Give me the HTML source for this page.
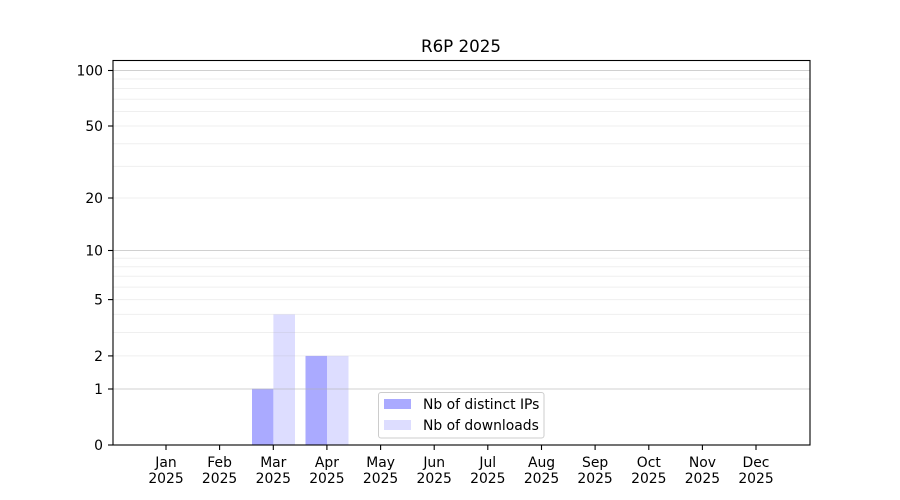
<!DOCTYPE html>
<html>
<head>
<meta charset="utf-8">
<style>
html,body{margin:0;padding:0;background:#fff;}
svg{display:block;}
text{font-family:"DejaVu Sans","Liberation Sans",sans-serif;fill:#000;}
</style>
</head>
<body>
<svg width="900" height="500" viewBox="0 0 900 500" xmlns="http://www.w3.org/2000/svg">
<rect x="0" y="0" width="900" height="500" fill="#fff"/>
<!-- bars -->
<rect x="252" y="388.8" width="21.4" height="56.2" fill="#aaaaff"/>
<rect x="273.4" y="314.4" width="21.6" height="130.6" fill="#ddddff"/>
<rect x="305.5" y="355.9" width="21.5" height="89.1" fill="#aaaaff"/>
<rect x="327" y="355.9" width="21.5" height="89.1" fill="#ddddff"/>
<!-- minor/light gridlines -->
<g stroke="#b0b0b0" stroke-opacity="0.2" stroke-width="1">
<line x1="113" x2="810" y1="355.9" y2="355.9"/>
<line x1="113" x2="810" y1="332.5" y2="332.5"/>
<line x1="113" x2="810" y1="314.4" y2="314.4"/>
<line x1="113" x2="810" y1="299.6" y2="299.6"/>
<line x1="113" x2="810" y1="287.1" y2="287.1"/>
<line x1="113" x2="810" y1="276.3" y2="276.3"/>
<line x1="113" x2="810" y1="266.7" y2="266.7"/>
<line x1="113" x2="810" y1="258.2" y2="258.2"/>
<line x1="113" x2="810" y1="198.0" y2="198.0"/>
<line x1="113" x2="810" y1="166.4" y2="166.4"/>
<line x1="113" x2="810" y1="143.7" y2="143.7"/>
<line x1="113" x2="810" y1="126.0" y2="126.0"/>
<line x1="113" x2="810" y1="111.5" y2="111.5"/>
<line x1="113" x2="810" y1="99.2" y2="99.2"/>
<line x1="113" x2="810" y1="88.5" y2="88.5"/>
<line x1="113" x2="810" y1="79.0" y2="79.0"/>
</g>
<!-- major gridlines -->
<g stroke="#b0b0b0" stroke-opacity="0.6" stroke-width="1">
<line x1="113" x2="810" y1="389.0" y2="389.0"/>
<line x1="113" x2="810" y1="250.5" y2="250.5"/>
<line x1="113" x2="810" y1="70.5" y2="70.5"/>
</g>
<!-- spines -->
<rect x="113" y="60.5" width="697" height="384.5" fill="none" stroke="#000" stroke-width="1.1"/>
<!-- y ticks -->
<g stroke="#000" stroke-width="1.1">
<line x1="108" x2="113" y1="445" y2="445"/>
<line x1="108" x2="113" y1="389" y2="389"/>
<line x1="108" x2="113" y1="355.9" y2="355.9"/>
<line x1="108" x2="113" y1="299.6" y2="299.6"/>
<line x1="108" x2="113" y1="250.5" y2="250.5"/>
<line x1="108" x2="113" y1="198" y2="198"/>
<line x1="108" x2="113" y1="126" y2="126"/>
<line x1="108" x2="113" y1="70.5" y2="70.5"/>
</g>
<g font-size="13.9" text-anchor="end">
<text x="103" y="450">0</text>
<text x="103" y="394">1</text>
<text x="103" y="361">2</text>
<text x="103" y="304.6">5</text>
<text x="103" y="255.5">10</text>
<text x="103" y="203">20</text>
<text x="103" y="131">50</text>
<text x="103" y="75.5">100</text>
</g>
<!-- x ticks -->
<g stroke="#000" stroke-width="1.1">
<line x1="166" x2="166" y1="445" y2="450"/>
<line x1="219.6" x2="219.6" y1="445" y2="450"/>
<line x1="273.3" x2="273.3" y1="445" y2="450"/>
<line x1="326.9" x2="326.9" y1="445" y2="450"/>
<line x1="380.6" x2="380.6" y1="445" y2="450"/>
<line x1="434.2" x2="434.2" y1="445" y2="450"/>
<line x1="487.8" x2="487.8" y1="445" y2="450"/>
<line x1="541.5" x2="541.5" y1="445" y2="450"/>
<line x1="595.1" x2="595.1" y1="445" y2="450"/>
<line x1="648.8" x2="648.8" y1="445" y2="450"/>
<line x1="702.4" x2="702.4" y1="445" y2="450"/>
<line x1="756" x2="756" y1="445" y2="450"/>
</g>
<g font-size="13.9" text-anchor="middle">
<text x="166" y="467">Jan</text><text x="166" y="483">2025</text>
<text x="219.6" y="467">Feb</text><text x="219.6" y="483">2025</text>
<text x="273.3" y="467">Mar</text><text x="273.3" y="483">2025</text>
<text x="326.9" y="467">Apr</text><text x="326.9" y="483">2025</text>
<text x="380.6" y="467">May</text><text x="380.6" y="483">2025</text>
<text x="434.2" y="467">Jun</text><text x="434.2" y="483">2025</text>
<text x="487.8" y="467">Jul</text><text x="487.8" y="483">2025</text>
<text x="541.5" y="467">Aug</text><text x="541.5" y="483">2025</text>
<text x="595.1" y="467">Sep</text><text x="595.1" y="483">2025</text>
<text x="648.8" y="467">Oct</text><text x="648.8" y="483">2025</text>
<text x="702.4" y="467">Nov</text><text x="702.4" y="483">2025</text>
<text x="756" y="467">Dec</text><text x="756" y="483">2025</text>
</g>
<!-- title -->
<text x="461" y="52" font-size="16.7" text-anchor="middle">R6P 2025</text>
<!-- legend -->
<rect x="378.5" y="392.5" width="165.5" height="45.5" rx="2.5" ry="2.5" fill="#fff" fill-opacity="0.8" stroke="#cccccc" stroke-width="1"/>
<rect x="384" y="399" width="27" height="10" fill="#aaaaff"/>
<rect x="384" y="420" width="27" height="10" fill="#ddddff"/>
<g font-size="13.9">
<text x="423" y="409">Nb of distinct IPs</text>
<text x="423" y="430">Nb of downloads</text>
</g>
</svg>
</body>
</html>
